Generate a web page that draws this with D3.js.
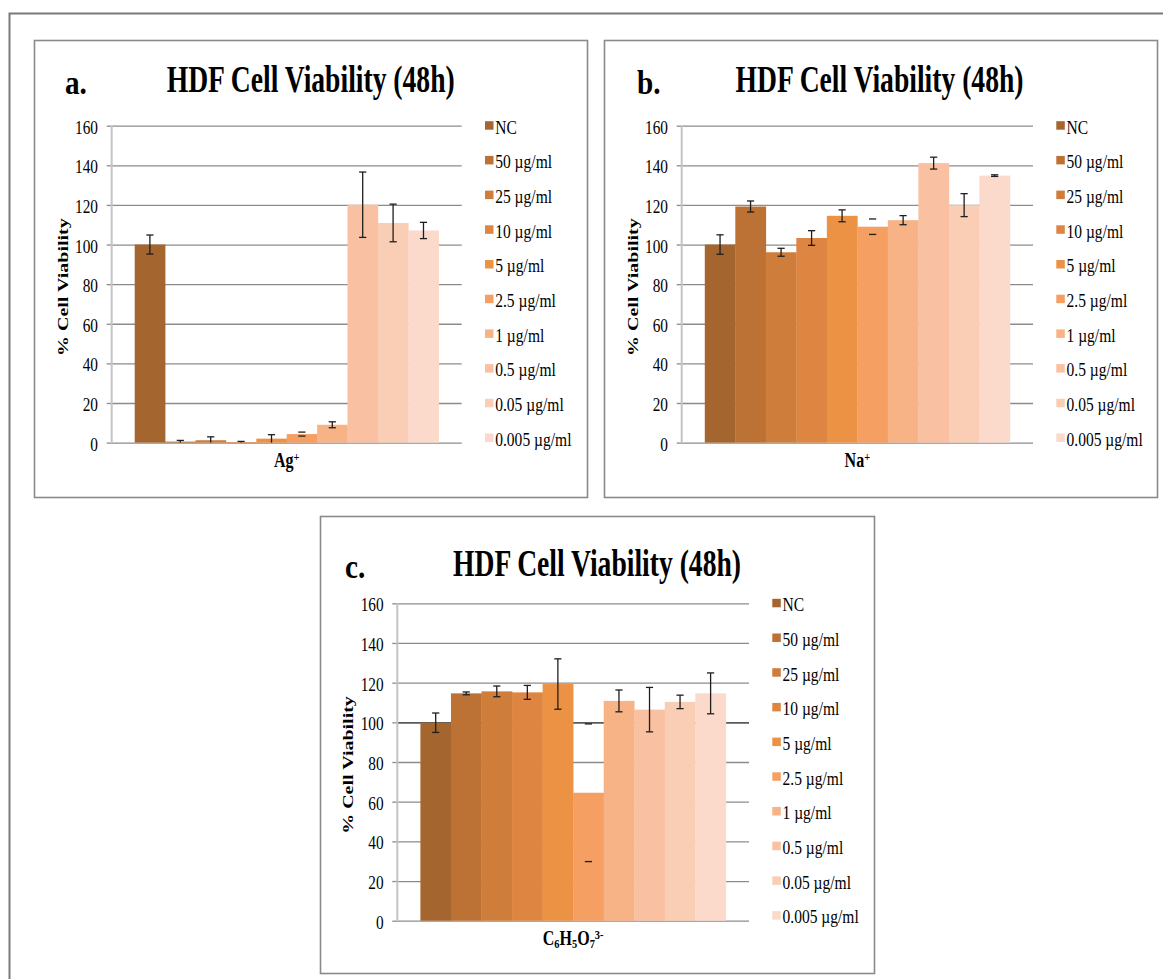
<!DOCTYPE html>
<html>
<head>
<meta charset="utf-8">
<script src="https://cdn.jsdelivr.net/npm/d3@7"></script>
<style>
  html, body { margin: 0; padding: 0; background: #ffffff; }
  svg { display: block; }
</style>
</head>
<body>
<script>
// ---- data -------------------------------------------------------------
const seriesNames = ["NC", "50 µg/ml", "25 µg/ml", "10 µg/ml", "5 µg/ml",
  "2.5 µg/ml", "1 µg/ml", "0.5 µg/ml", "0.05 µg/ml", "0.005 µg/ml"];
const yTicks = [0, 20, 40, 60, 80, 100, 120, 140, 160];

// Ag+ (panel a)
const agMean = [100.0, 0.5, 1.2, 0.3, 2.0, 4.3, 9.0, 120.1, 110.9, 107.1];
const agErr  = [4.8, 0.6, 1.7, 0.3, 2.0, 1.0, 1.5, 16.5, 9.5, 4.1];
// Na+ (panel b)
const naMean = [100.0, 119.2, 96.1, 103.3, 114.5, 109.0, 112.3, 141.1, 119.9, 134.8];
const naErr  = [4.9, 2.8, 2.0, 3.7, 3.0, 3.9, 2.3, 3.0, 5.8, 0.4];
// citrate (panel c)
const citMean = [99.8, 114.6, 115.6, 115.1, 119.3, 64.5, 110.8, 106.4, 110.3, 114.6];
const citErr  = [4.9, 0.7, 2.7, 3.5, 12.7, 34.7, 5.5, 11.2, 3.4, 10.3];

// ---- styling ------------------------------------------------------------
const barColors = ["#a5652e", "#bc7135", "#cf7d3b", "#dd8541", "#ec9244",
  "#f5a062", "#f7b386", "#f9c0a1", "#facdb5", "#fbdacc"];
const capsOnly = new Set(["2.5 µg/ml"]);   // this series shows only the whisker caps
const FONT = "'Liberation Serif', 'Times New Roman', serif";

const W = 1163, H = 979;
const svg = d3.select("body").append("svg")
  .attr("width", W).attr("height", H)
  .attr("viewBox", `0 0 ${W} ${H}`);

svg.append("rect").attr("width", W).attr("height", H).attr("fill", "#fff");

// outer figure frame (continues past the right and bottom edges)
svg.append("path")
  .attr("d", `M9.5,${H} V13.5 H${W}`)
  .attr("fill", "none").attr("stroke", "#7a7a7a").attr("stroke-width", 2);

// text helper: horizontally condensed serif text
function addText(g, x, y, str, opt) {
  const sx = opt.sx || 1;
  const t = g.append("text")
    .attr("transform", `translate(${x},${y}) scale(${sx},1)` + (opt.rotate ? ` rotate(${opt.rotate})` : ""))
    .attr("font-family", FONT)
    .attr("font-size", opt.size)
    .attr("font-weight", opt.weight || "normal")
    .attr("text-anchor", opt.anchor || "start")
    .attr("fill", "#000");
  if (str !== null) t.text(str);
  return t;
}

const panels = [
  { letter: "a.", mean: agMean, err: agErr, label: [["Ag", 0], ["+", "sup"]],
    box: { x0: 34, y0: 40, x1: 587, y1: 497 },
    plot: { left: 111.7, right: 461.7, top: 125.7, bottom: 442.6 },
    letterX: 65, titleX: 166.7, titleY: 92, refLine: false },
  { letter: "b.", mean: naMean, err: naErr, label: [["Na", 0], ["+", "sup"]],
    box: { x0: 604, y0: 40, x1: 1157, y1: 497 },
    plot: { left: 681.7, right: 1033, top: 125.7, bottom: 442.6 },
    letterX: 637, titleX: 735.5, titleY: 92, refLine: false },
  { letter: "c.", mean: citMean, err: citErr,
    label: [["C", 0], ["6", "sub"], ["H", 0], ["5", "sub"], ["O", 0], ["7", "sub"], ["3-", "sup"]],
    box: { x0: 320, y0: 516, x1: 874, y1: 973 },
    plot: { left: 397.3, right: 749, top: 603.3, bottom: 920.7 },
    letterX: 345, titleX: 453, titleY: 576, refLine: true }
];

panels.forEach(p => {
  const g = svg.append("g");
  const { left, right, top, bottom } = p.plot;

  // panel frame
  g.append("rect")
    .attr("x", p.box.x0 + 0.5).attr("y", p.box.y0 + 0.5)
    .attr("width", p.box.x1 - p.box.x0).attr("height", p.box.y1 - p.box.y0)
    .attr("fill", "#fff").attr("stroke", "#8a8a8a").attr("stroke-width", 1.6);

  // panel letter and title
  addText(g, p.letterX, p.titleY + 2, p.letter, { size: 34, weight: "bold", sx: 0.86 });
  addText(g, p.titleX, p.titleY, null, { size: 38, weight: "bold" })
    .attr("textLength", 288).attr("lengthAdjust", "spacingAndGlyphs")
    .text("HDF Cell Viability (48h)");

  const y = d3.scaleLinear().domain([0, 160]).range([bottom, top]);
  const x0 = d3.scaleBand().domain(["group"]).range([left, right])
    .paddingInner(0).paddingOuter(0.0757);
  const x1 = d3.scaleBand().domain(seriesNames).range([0, x0.bandwidth()]).padding(0);

  // horizontal gridlines with short outside tick marks
  const grid = g.append("g").attr("transform", `translate(${left},0)`)
    .call(d3.axisLeft(y).tickValues(yTicks).tickSize(-(right - left)).tickSizeOuter(0).tickFormat(""));
  grid.select(".domain").remove();
  grid.selectAll(".tick line").attr("stroke", "#8c8c8c").attr("stroke-width", 1.3);
  if (p.refLine) {
    grid.selectAll(".tick").filter(d => d === 100).select("line")
      .attr("stroke", "#5a5a5a").attr("stroke-width", 1.6);
  }

  const axis = g.append("g").attr("transform", `translate(${left},0)`)
    .call(d3.axisLeft(y).tickValues(yTicks).tickSize(5).tickSizeOuter(0).tickPadding(8.7));
  axis.select(".domain").remove();
  axis.selectAll(".tick line").attr("stroke", "#8c8c8c").attr("stroke-width", 1.3);
  const tsx = 0.85;
  axis.selectAll(".tick text")
    .attr("font-family", FONT).attr("font-size", 18).attr("fill", "#000")
    .attr("x", -13.7 / tsx).attr("dy", "0.42em")
    .attr("transform", `scale(${tsx},1)`);

  // vertical axis line
  g.append("line")
    .attr("x1", left).attr("x2", left).attr("y1", top).attr("y2", bottom)
    .attr("stroke", "#c4c4c4").attr("stroke-width", 2);

  // bars
  const rows = seriesNames.map((s, i) => ({ s, v: p.mean[i], e: p.err[i], c: barColors[i] }));
  const gx = x0("group");
  g.append("g").selectAll("rect").data(rows).join("rect")
    .attr("x", d => gx + x1(d.s))
    .attr("y", d => y(d.v))
    .attr("width", x1.bandwidth() + 0.3)
    .attr("height", d => y(0) - y(d.v))
    .attr("fill", d => d.c);

  // error bars
  const eb = g.append("g").attr("stroke", "#1e1e1e").attr("stroke-width", 1.3);
  const cap = 3.6;
  rows.forEach(d => {
    const cx = gx + x1(d.s) + x1.bandwidth() / 2;
    const yHi = y(d.v + d.e), yLo = y(Math.max(d.v - d.e, 0));
    if (!capsOnly.has(d.s)) {
      eb.append("line").attr("x1", cx).attr("x2", cx).attr("y1", yHi).attr("y2", yLo);
    }
    eb.append("line").attr("x1", cx - cap).attr("x2", cx + cap).attr("y1", yHi).attr("y2", yHi);
    if (d.v - d.e > 0) {
      eb.append("line").attr("x1", cx - cap).attr("x2", cx + cap).attr("y1", yLo).attr("y2", yLo);
    }
  });

  // y-axis title
  addText(g, left - 49, (top + bottom) / 2 + 3, "% Cell Viability",
    { size: 20, weight: "bold", anchor: "middle", sx: 0.74, rotate: -90 })
    .attr("dy", "0.35em");

  // x category label with sub/superscripts
  const xl = addText(g, (left + right) / 2, bottom + 24, null,
    { size: 20, weight: "bold", anchor: "middle", sx: 0.8 });
  p.label.forEach(([txt, kind]) => {
    const ts = xl.append("tspan").text(txt);
    if (kind === "sub") ts.attr("font-size", 13).attr("baseline-shift", "-25%");
    if (kind === "sup") ts.attr("font-size", 13).attr("baseline-shift", "45%");
  });

  // legend
  const lg = g.append("g");
  const step = 34.7;
  rows.forEach((d, i) => {
    const cy = top + i * step;
    lg.append("rect")
      .attr("x", right + 23.3).attr("y", cy - 4.5)
      .attr("width", 8.5).attr("height", 8.5).attr("fill", d.c);
    addText(lg, right + 33.5, cy + 7.8, d.s, { size: 18.5, sx: 0.84 });
  });
});
</script>
</body>
</html>
